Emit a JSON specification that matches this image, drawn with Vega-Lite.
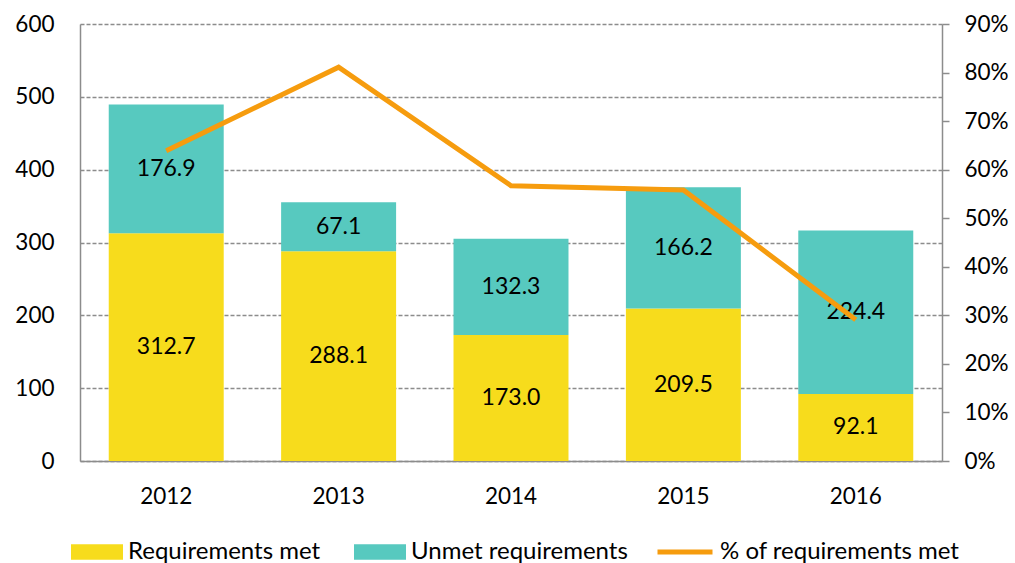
{
  "$schema": "https://vega.github.io/schema/vega-lite/v6.json",
  "width": 862,
  "height": 437,
  "autosize": {"type": "none"},
  "padding": {"left": 80, "top": 24, "right": 73, "bottom": 102},
  "config": {
    "view": {"stroke": null},
    "font": "Lato",
    "axis": {"labelFont": "Lato", "labelFontSize": 22.5, "labelColor": "#000000", "titleFont": "Lato"},
    "legend": {"labelFont": "Lato", "labelFontSize": 24, "labelColor": "#000000", "labelLimit": 500}
  },
  "datasets": {
    "bars": [
      {"year": "2012", "cat": "Requirements met", "value": 312.7},
      {"year": "2012", "cat": "Unmet requirements", "value": 176.9},
      {"year": "2013", "cat": "Requirements met", "value": 288.1},
      {"year": "2013", "cat": "Unmet requirements", "value": 67.1},
      {"year": "2014", "cat": "Requirements met", "value": 173.0},
      {"year": "2014", "cat": "Unmet requirements", "value": 132.3},
      {"year": "2015", "cat": "Requirements met", "value": 209.5},
      {"year": "2015", "cat": "Unmet requirements", "value": 166.2},
      {"year": "2016", "cat": "Requirements met", "value": 92.1},
      {"year": "2016", "cat": "Unmet requirements", "value": 224.4}
    ],
    "pct": [
      {"year": "2012", "pct": 0.639},
      {"year": "2013", "pct": 0.811},
      {"year": "2014", "pct": 0.567},
      {"year": "2015", "pct": 0.558},
      {"year": "2016", "pct": 0.291}
    ]
  },
  "encoding": {
    "x": {
      "field": "year", "type": "nominal",
      "scale": {"paddingInner": 0.333, "paddingOuter": 0.1667},
      "axis": {"title": null, "labelAngle": 0, "ticks": false, "labelPadding": 24, "domainColor": "#8c8c8c", "domainWidth": 1.5}
    }
  },
  "layer": [
    {
      "data": {"name": "bars"},
      "transform": [
        {"stack": "value", "groupby": ["year"], "sort": [{"field": "cat", "order": "ascending"}], "as": ["v0", "v1"]},
        {"calculate": "(datum.v0 + datum.v1) / 2", "as": "mid"}
      ],
      "layer": [
        {
          "mark": {"type": "bar"},
          "encoding": {
            "y": {
              "field": "v0", "type": "quantitative",
              "scale": {"domain": [0, 600], "nice": false},
              "axis": {"title": null, "values": [0, 100, 200, 300, 400, 500, 600], "ticks": false, "labelPadding": 26, "grid": true, "gridDash": [4, 2], "gridColor": "#8c8c8c", "gridWidth": 1.4, "domainColor": "#8c8c8c", "domainWidth": 1.5}
            },
            "y2": {"field": "v1"},
            "fill": {
              "field": "cat", "type": "nominal",
              "scale": {"domain": ["Requirements met", "Unmet requirements"], "range": ["#F7DC1C", "#57C9BF"]},
              "legend": {
                "orient": "none", "legendX": -9, "legendY": 502, "direction": "horizontal", "title": null,
                "symbolType": "M-1,-0.3L1,-0.3L1,0.3L-1,0.3Z", "symbolSize": 2704, "symbolStrokeWidth": 0,
                "columnPadding": 33, "labelOffset": 5, "padding": 0
              }
            }
          }
        },
        {
          "mark": {"type": "text", "fontSize": 23, "font": "Lato", "color": "#000000"},
          "encoding": {
            "y": {
              "field": "mid", "type": "quantitative", "scale": {"domain": [0, 600], "nice": false},
              "axis": {"title": null, "values": [0, 100, 200, 300, 400, 500, 600], "ticks": false, "labelPadding": 26, "grid": true, "gridDash": [4, 2], "gridColor": "#8c8c8c", "gridWidth": 1.4, "domainColor": "#8c8c8c", "domainWidth": 1.5}
            },
            "text": {"field": "value", "type": "quantitative", "format": ".1f"}
          }
        }
      ]
    },
    {
      "data": {"name": "pct"},
      "mark": {"type": "line", "strokeWidth": 5},
      "encoding": {
        "y": {
          "field": "pct", "type": "quantitative",
          "scale": {"domain": [0, 0.9], "nice": false},
          "axis": {"orient": "right", "title": null, "format": ".0%", "values": [0, 0.1, 0.2, 0.3, 0.4, 0.5, 0.6, 0.7, 0.8, 0.9], "grid": false, "ticks": true, "tickSize": 7, "tickColor": "#8c8c8c", "tickWidth": 1.5, "labelPadding": 15, "domainColor": "#8c8c8c", "domainWidth": 1.5}
        },
        "stroke": {
          "datum": "% of requirements met",
          "scale": {"range": ["#F69C0E"]},
          "legend": {
            "orient": "none", "legendX": 575, "legendY": 498, "direction": "horizontal", "title": null,
            "symbolType": "stroke", "symbolSize": 3025, "symbolStrokeWidth": 5, "labelOffset": 5, "padding": 0
          }
        }
      }
    }
  ],
  "resolve": {"scale": {"y": "independent"}}
}
